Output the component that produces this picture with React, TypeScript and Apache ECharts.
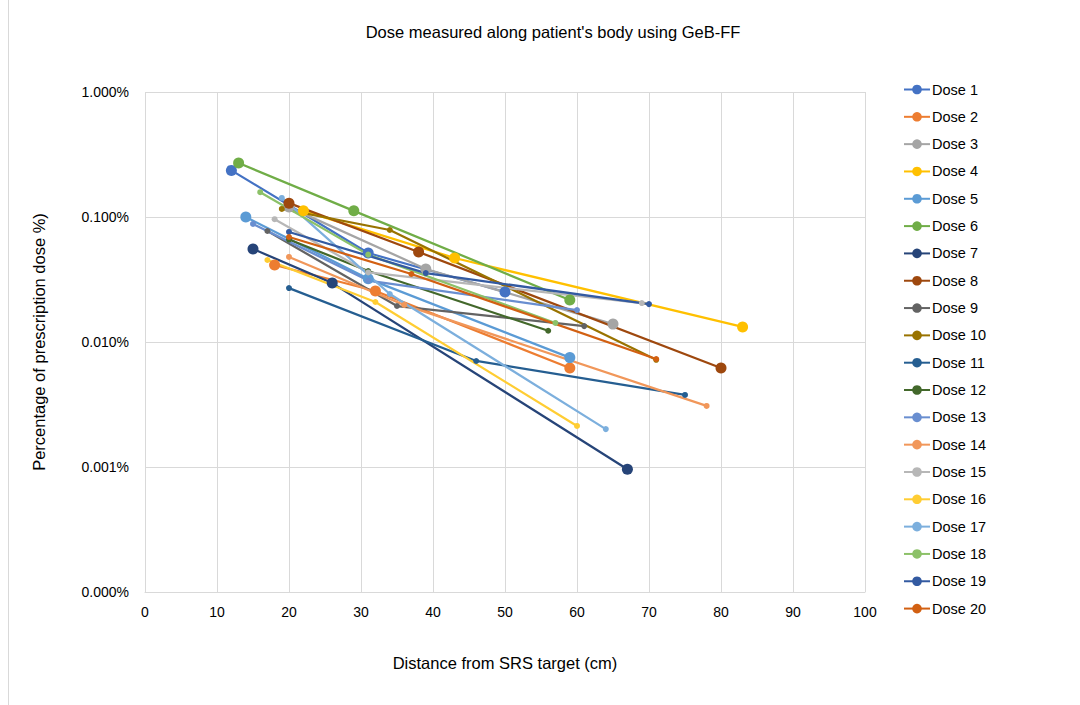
import React, { useEffect, useRef } from "react";
import * as echarts from "echarts";

const seriesNames = [
  "Dose 1", "Dose 2", "Dose 3", "Dose 4", "Dose 5", "Dose 6", "Dose 7", "Dose 8", "Dose 9", "Dose 10",
  "Dose 11", "Dose 12", "Dose 13", "Dose 14", "Dose 15", "Dose 16", "Dose 17", "Dose 18", "Dose 19", "Dose 20",
];

const colors = [
  "#4472C4", "#ED7D31", "#A5A5A5", "#FFC000", "#5B9BD5", "#70AD47", "#264478", "#9E480E", "#636363", "#997300",
  "#255E91", "#43682B", "#698ED0", "#F1975A", "#B7B7B7", "#FFCD33", "#7CAFDD", "#8CC168", "#335AA1", "#D26012",
];

// distance (cm) and dose (% of prescription) for each series
const dose1: [number, number][] = [[12, 0.236], [31, 0.0515], [50, 0.0251]];
const dose2: [number, number][] = [[18, 0.0413], [32, 0.0256], [59, 0.0062]];
const dose3: [number, number][] = [[20, 0.12], [39, 0.0384], [65, 0.0139]];
const dose4: [number, number][] = [[22, 0.112], [43, 0.047], [83, 0.0132]];
const dose5: [number, number][] = [[14, 0.1], [31, 0.032], [59, 0.0075]];
const dose6: [number, number][] = [[13, 0.27], [29, 0.112], [59, 0.0217]];
const dose7: [number, number][] = [[15, 0.0555], [26, 0.0296], [67, 0.00096]];
const dose8: [number, number][] = [[20, 0.129], [38, 0.0525], [80, 0.0062]];
const dose9: [number, number][] = [[17, 0.0773], [35, 0.0194], [61, 0.0134]];
const dose10: [number, number][] = [[19, 0.116], [34, 0.0787], [71, 0.0072]];
const dose11: [number, number][] = [[20, 0.027], [46, 0.00705], [75, 0.00377]];
const dose12: [number, number][] = [[20, 0.066], [31, 0.037], [56, 0.0123]];
const dose13: [number, number][] = [[15, 0.088], [31, 0.031], [60, 0.018]];
const dose14: [number, number][] = [[20, 0.0479], [36, 0.0198], [78, 0.00308]];
const dose15: [number, number][] = [[18, 0.096], [31, 0.036], [69, 0.0205]];
const dose16: [number, number][] = [[17, 0.0453], [32, 0.0209], [60, 0.00213]];
const dose17: [number, number][] = [[19, 0.142], [34, 0.0242], [64, 0.00201]];
const dose18: [number, number][] = [[16, 0.158], [31, 0.05], [57, 0.0142]];
const dose19: [number, number][] = [[20, 0.0759], [39, 0.0356], [70, 0.0201]];
const dose20: [number, number][] = [[20, 0.0692], [37, 0.035], [71, 0.00731]];

const allData = [
  dose1, dose2, dose3, dose4, dose5, dose6, dose7, dose8, dose9, dose10,
  dose11, dose12, dose13, dose14, dose15, dose16, dose17, dose18, dose19, dose20,
];

const xTicks = { min: 0, max: 100, interval: 10 };

const FONT = "'Liberation Sans', Arial, sans-serif";

export default function App() {
  const ref = useRef<HTMLDivElement>(null);
  useEffect(() => {
    document.body.style.margin = "0";
    if (!ref.current) return;
    const chart = echarts.init(ref.current, null, { renderer: "svg" });
    const series = allData.map((d, i) => ({
      name: seriesNames[i],
      type: "line",
      data: d,
      symbol: "circle",
      symbolSize: i < 8 ? 11 : 6,
      showSymbol: true,
      lineStyle: { width: 2.25, color: colors[i] },
      itemStyle: { color: colors[i] },
      emphasis: { disabled: true },
      z: 2,
    }));
    chart.setOption({
      animation: false,
      backgroundColor: "#ffffff",
      title: {
        text: "Dose measured along patient's body using GeB-FF",
        left: 548,
        textAlign: "center",
        top: 18,
        textStyle: { fontFamily: FONT, fontSize: 16.5, fontWeight: "normal", color: "#000" },
      },
      graphic: [
        { type: "line", shape: { x1: 8.5, y1: 0, x2: 8.5, y2: 705 }, style: { stroke: "#D9D9D9", lineWidth: 1 } },
      ],
      legend: {
        orient: "vertical",
        left: 898,
        top: 77,
        itemWidth: 26,
        itemHeight: 12,
        itemGap: 12.32,
        textStyle: { fontFamily: FONT, fontSize: 14.5, color: "#000", padding: [0, 0, 0, -3] },
        data: seriesNames,
      },
      grid: { left: 145, right: 215, top: 92, bottom: 113, containLabel: false },
      xAxis: {
        type: "value",
        min: xTicks.min,
        max: xTicks.max,
        interval: xTicks.interval,
        name: "Distance from SRS target (cm)",
        nameLocation: "middle",
        nameGap: 62,
        nameTextStyle: { fontFamily: FONT, fontSize: 16.5, color: "#000" },
        axisLine: { show: true, lineStyle: { color: "#D9D9D9", width: 1 } },
        axisTick: { show: false },
        axisLabel: { fontFamily: FONT, fontSize: 14, color: "#000", margin: 13 },
        splitLine: { show: true, lineStyle: { color: "#D9D9D9", width: 1 } },
      },
      yAxis: {
        type: "log",
        logBase: 10,
        min: 0.0001,
        max: 1,
        name: "Percentage of prescription dose %)",
        nameLocation: "middle",
        nameGap: 98,
        nameTextStyle: { fontFamily: FONT, fontSize: 16.5, color: "#000" },
        axisLine: { show: false },
        axisTick: { show: false },
        axisLabel: {
          fontFamily: FONT,
          fontSize: 14,
          color: "#000",
          margin: 16,
          formatter: (v: number) => v.toFixed(3) + "%",
        },
        splitLine: { show: true, lineStyle: { color: "#D9D9D9", width: 1 } },
      },
      series,
    });
    return () => chart.dispose();
  }, []);
  return <div ref={ref} style={{ width: 1080, height: 705 }} />;
}
